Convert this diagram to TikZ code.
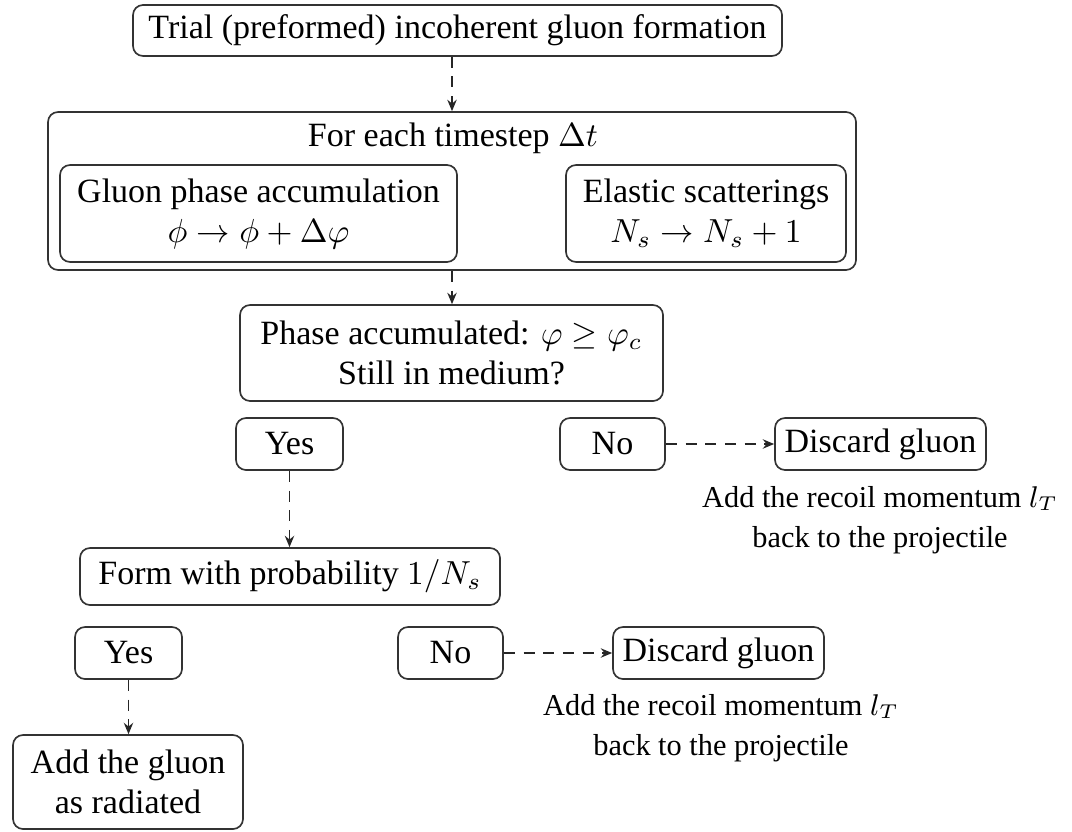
\documentclass[tikz,border=0pt]{standalone}
\usepackage{fontspec}
\setmainfont{Liberation Serif}
\usetikzlibrary{arrows.meta}
\begin{document}
\begin{tikzpicture}[x=0.3pt,y=-0.3pt,
  box/.style={draw=black!80, line width=0.5pt, rounded corners=3pt, align=center, inner sep=0pt, font=\fontsize{10.2}{12}\selectfont},
  plain/.style={align=center, inner sep=0pt, font=\fontsize{9.1}{12}\selectfont},
  flow/.style={draw=black!85, line width=0.55pt, dash pattern=on 3.3pt off 2.6pt, -{Stealth[length=3.4pt,width=2.8pt]}}]
\useasboundingbox (0,0) rectangle (1072,831);
\node[box, minimum width=194.7pt, minimum height=15.3pt] (trial) at (457.5,30.5) {Trial (preformed) incoherent gluon formation};
\node[box, minimum width=242.4pt, minimum height=47.4pt] (loop) at (452,191) {};
\node[box, draw=none] (title) at (453,138) {For each timestep $\Delta t$};
\node[box, minimum width=119.1pt, minimum height=29.1pt] (gpa) at (258.5,213.5) {Gluon phase accumulation\\ $\phi \to \phi + \Delta\varphi$};
\node[box, minimum width=84pt, minimum height=29.1pt] (els) at (706,213.5) {Elastic scatterings\\ $N_s \to N_s + 1$};
\node[box, minimum width=126.9pt, minimum height=28.8pt] (phase) at (451.5,353) {Phase accumulated: $\varphi \geq \varphi_c$\\ Still in medium?};
\node[box, minimum width=32.1pt, minimum height=15.6pt] (yes1) at (289.5,444) {Yes};
\node[box, minimum width=31.5pt, minimum height=15.6pt] (no1) at (612.5,444) {No};
\node[box, minimum width=63.3pt, minimum height=15.6pt] (disc1) at (880.5,444) {Discard gluon};
\node[plain] (note1) at (880,520) {Add the recoil momentum $l_T$\\ back to the projectile};
\node[box, minimum width=126pt, minimum height=17.1pt] (form) at (290,576.5) {Form with probability $1/N_s$};
\node[box, minimum width=32.1pt, minimum height=15.6pt] (yes2) at (128.5,653) {Yes};
\node[box, minimum width=31.5pt, minimum height=15.6pt] (no2) at (450.5,653) {No};
\node[box, minimum width=63.3pt, minimum height=15.6pt] (disc2) at (718.5,653) {Discard gluon};
\node[plain] (note2) at (721,728) {Add the recoil momentum $l_T$\\ back to the projectile};
\node[box, minimum width=69pt, minimum height=28.2pt] (add) at (128,782) {Add the gluon\\ as radiated};
\draw[flow] (trial.south -| loop.north) -- (loop.north);
\draw[flow] (loop.south) -- (loop.south |- phase.north);
\draw[flow] (yes1.south) -- (yes1.south |- form.north);
\draw[flow] (no1.east) -- (disc1.west);
\draw[flow] (yes2.south) -- (yes2.south |- add.north);
\draw[flow] (no2.east) -- (disc2.west);
\end{tikzpicture}
\end{document}
